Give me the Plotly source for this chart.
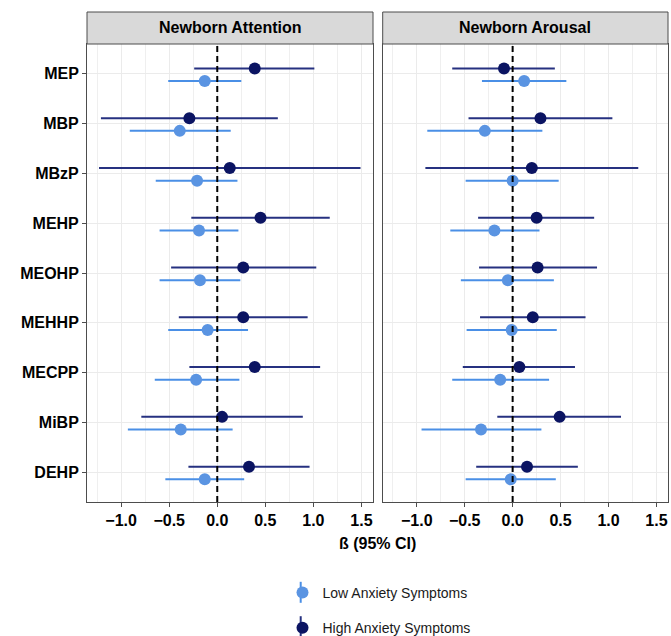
import plotly.graph_objects as go

# ---- data ----
exposures = ["MEP", "MBP", "MBzP", "MEHP", "MEOHP", "MEHHP", "MECPP", "MiBP", "DEHP"]
panels = ["Newborn Attention", "Newborn Arousal"]
groups = ["Low Anxiety Symptoms", "High Anxiety Symptoms"]

# Newborn Attention
att_low_est = [-0.13, -0.39, -0.21, -0.19, -0.18, -0.10, -0.22, -0.38, -0.13]
att_low_lo = [-0.51, -0.91, -0.64, -0.60, -0.60, -0.51, -0.65, -0.93, -0.54]
att_low_hi = [0.25, 0.14, 0.21, 0.22, 0.24, 0.32, 0.23, 0.16, 0.28]
att_high_est = [0.39, -0.29, 0.13, 0.45, 0.27, 0.27, 0.39, 0.05, 0.33]
att_high_lo = [-0.24, -1.21, -1.23, -0.27, -0.48, -0.40, -0.29, -0.79, -0.30]
att_high_hi = [1.01, 0.63, 1.49, 1.17, 1.03, 0.94, 1.07, 0.89, 0.96]

# Newborn Arousal
aro_low_est = [0.12, -0.29, 0.00, -0.19, -0.05, -0.01, -0.13, -0.33, -0.02]
aro_low_lo = [-0.32, -0.89, -0.49, -0.65, -0.54, -0.48, -0.63, -0.95, -0.49]
aro_low_hi = [0.56, 0.31, 0.48, 0.28, 0.43, 0.46, 0.38, 0.30, 0.45]
aro_high_est = [-0.09, 0.29, 0.20, 0.25, 0.26, 0.21, 0.07, 0.49, 0.15]
aro_high_lo = [-0.63, -0.46, -0.91, -0.36, -0.35, -0.34, -0.52, -0.16, -0.38]
aro_high_hi = [0.44, 1.04, 1.31, 0.85, 0.88, 0.76, 0.65, 1.13, 0.68]

x_tickvals = [-1.0, -0.5, 0.0, 0.5, 1.0, 1.5]
x_ticktext = ["\u22121.0", "\u22120.5", "0.0", "0.5", "1.0", "1.5"]

# ---- style ----
FONT = "Liberation Sans, Arial, sans-serif"
LOW_PT, LOW_LN = "#5A94E2", "#4A8FE6"
HIGH_PT, HIGH_LN = "#0B1462", "#263180"
W, H = 671, 636
ML, MR, MT, MB = 87, 3, 44, 134
PW, PH = W - ML - MR, H - MT - MB

ypos = [len(exposures) - i for i in range(len(exposures))]
y_high = [p + 0.11 for p in ypos]
y_low = [p - 0.145 for p in ypos]

fig = go.Figure()

panel_data = [
    (att_low_est, att_low_lo, att_low_hi, att_high_est, att_high_lo, att_high_hi),
    (aro_low_est, aro_low_lo, aro_low_hi, aro_high_est, aro_high_lo, aro_high_hi),
]

for k, (le, ll, lh, he, hl, hh) in enumerate(panel_data):
    xa = "x" if k == 0 else "x2"
    ya = "y" if k == 0 else "y2"
    for est, lo, hi, yy, pc, lc, name in [
        (le, ll, lh, y_low, LOW_PT, LOW_LN, groups[0]),
        (he, hl, hh, y_high, HIGH_PT, HIGH_LN, groups[1]),
    ]:
        fig.add_trace(go.Scatter(
            x=est, y=yy, mode="markers", name=name,
            xaxis=xa, yaxis=ya,
            legendgroup=name, showlegend=(k == 0),
            marker=dict(color=pc, size=12, line=dict(width=0)),
            error_x=dict(type="data", symmetric=False,
                         array=[h - e for h, e in zip(hi, est)],
                         arrayminus=[e - l for e, l in zip(est, lo)],
                         color=lc, thickness=2, width=0),
        ))

dom1 = [0, 286 / PW]
dom2 = [(382.7 - ML) / PW, 1]
xr = [-1.355, 1.62]

axis_common = dict(
    range=xr, tickvals=x_tickvals, ticktext=x_ticktext, automargin=False,
    showgrid=True, gridcolor="#EBEBEB", gridwidth=1.3,
    minor=dict(dtick=0.25, tick0=0, showgrid=True, gridcolor="#EFEFEF", gridwidth=1, ticklen=0),
    zeroline=False, showline=True, linecolor="#4D4D4D", linewidth=1, mirror=True,
    ticks="outside", ticklen=4, tickcolor="#4D4D4D", tickwidth=1,
    tickfont=dict(family=FONT, size=16, color="#000000", weight="bold"),
)
fig.update_layout(
    xaxis=dict(domain=dom1, anchor="y", **axis_common),
    xaxis2=dict(domain=dom2, anchor="y2", **axis_common),
    yaxis=dict(domain=[0, 1], anchor="x", range=[0.4, 9.6], tickvals=ypos, ticktext=exposures,
               automargin=False,
               showgrid=True, gridcolor="#EBEBEB", gridwidth=1.3, zeroline=False,
               showline=True, linecolor="#4D4D4D", linewidth=1, mirror=True,
               ticks="outside", ticklen=4, tickcolor="#4D4D4D",
               tickfont=dict(family=FONT, size=16, color="#000000", weight="bold")),
    yaxis2=dict(domain=[0, 1], anchor="x2", range=[0.4, 9.6], tickvals=ypos, showticklabels=False,
                automargin=False,
                showgrid=True, gridcolor="#EBEBEB", gridwidth=1.3, zeroline=False,
                showline=True, linecolor="#4D4D4D", linewidth=1, mirror=True, ticks=""),
)

# zero reference lines
for xr_ref, yr_ref in [("x", "y"), ("x2", "y2")]:
    fig.add_shape(type="line", xref=xr_ref, yref=yr_ref + " domain", x0=0, x1=0, y0=0, y1=1,
                  line=dict(color="#000000", width=2, dash="6px,4px"), layer="above")

# strips
strip_h = 32 / PH
for dom, title in zip([dom1, dom2], panels):
    fig.add_shape(type="rect", xref="paper", yref="paper", x0=dom[0], x1=dom[1], y0=1, y1=1 + strip_h,
                  fillcolor="#D9D9D9", line=dict(color="#4D4D4D", width=1))
    fig.add_annotation(xref="paper", yref="paper", x=(dom[0] + dom[1]) / 2, y=1 + strip_h / 2,
                       text=title, showarrow=False, xanchor="center", yanchor="middle",
                       font=dict(family=FONT, size=16, color="#000000", weight="bold"))

# x title
fig.add_annotation(xref="paper", yref="paper", x=0.5, y=(502 - 543) / PH, text="\u00df (95% CI)",
                   showarrow=False, xanchor="center", yanchor="middle",
                   font=dict(family=FONT, size=16, color="#000000", weight="bold"))

# legend glyph vertical lines
lx = (300.7 - ML) / PW
for cy, col in [(592.3, LOW_LN), (626.7, HIGH_LN)]:
    fig.add_shape(type="line", xref="paper", yref="paper", x0=lx, x1=lx,
                  y0=(502 - (cy - 10.5)) / PH, y1=(502 - (cy + 10.5)) / PH,
                  line=dict(color=col, width=2), layer="below")

fig.update_layout(
    width=W, height=H,
    margin=dict(l=ML, r=MR, t=MT, b=MB, autoexpand=False),
    plot_bgcolor="white", paper_bgcolor="white",
    showlegend=True,
    legend=dict(x=(282.5 - ML) / PW, xanchor="left", y=(502 - 577) / PH, yanchor="top",
                orientation="v", traceorder="grouped", tracegroupgap=14,
                font=dict(family=FONT, size=14, color="#1A1A1A"),
                bgcolor="rgba(0,0,0,0)", itemclick=False),
)

fig.write_html("out.html", config={"displayModeBar": False},
               post_script="document.body.style.margin='0px';")
